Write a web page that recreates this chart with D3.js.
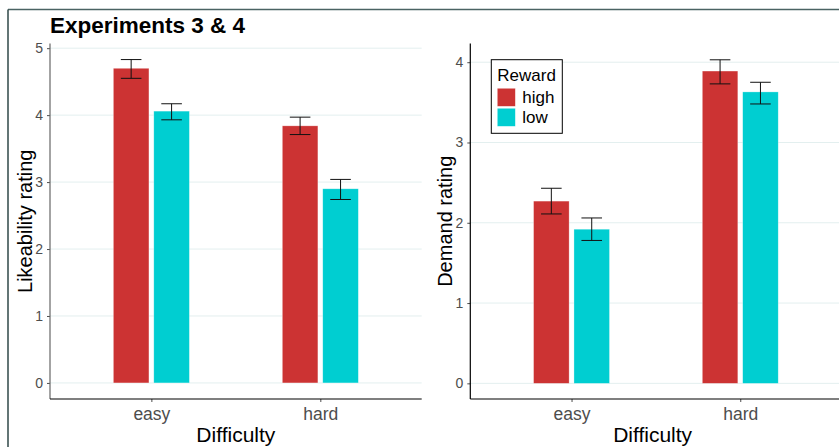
<!DOCTYPE html>
<html>
<head>
<meta charset="utf-8">
<script src="https://cdn.jsdelivr.net/npm/d3@7"></script>
<style>
  body { margin: 0; background: #fff; }
  svg { font-family: "Liberation Sans", Arial, sans-serif; display: block; }
</style>
</head>
<body>
<svg id="chart" width="839" height="447"></svg>
<script>
// data
const difficulty = ["easy", "hard"];
const reward = ["high", "low"];
const rewardColors = ["#CC3333", "#00CED1"];

// Experiment 3: likeability (mean, lower, upper) per difficulty x reward
const likeMean  = [[4.70, 4.06], [3.84, 2.90]];
const likeLower = [[4.55, 3.93], [3.71, 2.74]];
const likeUpper = [[4.83, 4.17], [3.97, 3.04]];

// Experiment 4: demand
const demandMean  = [[2.27, 1.92], [3.89, 3.63]];
const demandLower = [[2.11, 1.78], [3.73, 3.48]];
const demandUpper = [[2.43, 2.06], [4.03, 3.75]];

const likeTicks = [0, 1, 2, 3, 4, 5];
const demandTicks = [0, 1, 2, 3, 4];

const svg = d3.select("#chart");

// outer frame (top and left edges visible)
svg.append("line").attr("x1", 8).attr("x2", 839).attr("y1", 9.5).attr("y2", 9.5)
  .attr("stroke", "#4a6363").attr("stroke-width", 1.5);
svg.append("line").attr("x1", 8).attr("x2", 8).attr("y1", 9.5).attr("y2", 447)
  .attr("stroke", "#2f4747").attr("stroke-width", 1.5);

svg.append("text")
  .attr("x", 50).attr("y", 33)
  .attr("font-size", 22.5).attr("font-weight", "bold").attr("fill", "#000")
  .text("Experiments 3 & 4");

function buildRows(mean, lower, upper) {
  const rows = [];
  difficulty.forEach((d, i) => {
    reward.forEach((r, j) => {
      rows.push({ difficulty: d, reward: r, mean: mean[i][j], lo: lower[i][j], hi: upper[i][j] });
    });
  });
  return rows;
}

function drawPanel(opts) {
  const { left, right, top, bottom, yDomain, ticks, rows, yTitle, titleX, yAxisColor } = opts;

  const g = svg.append("g");

  const x = d3.scalePoint().domain(difficulty).range([left, right]).padding(0.6);
  const step = x.step();
  const inner = d3.scaleBand().domain(reward).range([-0.225 * step, 0.225 * step]).paddingInner(0.12);
  const y = d3.scaleLinear().domain(yDomain).range([bottom, top]);
  const color = d3.scaleOrdinal().domain(reward).range(rewardColors);

  // grid
  g.selectAll(".grid")
    .data(ticks)
    .join("line")
    .attr("class", "grid")
    .attr("x1", left).attr("x2", right)
    .attr("y1", (d) => y(d)).attr("y2", (d) => y(d))
    .attr("stroke", "#e3efef").attr("stroke-width", 1);

  // bars
  g.selectAll(".bar")
    .data(rows)
    .join("rect")
    .attr("class", "bar")
    .attr("x", (d) => x(d.difficulty) + inner(d.reward))
    .attr("y", (d) => y(d.mean))
    .attr("width", inner.bandwidth())
    .attr("height", (d) => y(0) - y(d.mean))
    .attr("fill", (d) => color(d.reward))
    .attr("stroke", "#ffffff").attr("stroke-opacity", 0.5).attr("stroke-width", 0.6);

  // error bars
  const capHalf = 10.3;
  const err = g.selectAll(".err").data(rows).join("g").attr("class", "err")
    .attr("stroke", "#111").attr("stroke-width", 1);
  const cx = (d) => x(d.difficulty) + inner(d.reward) + inner.bandwidth() / 2;
  err.append("line").attr("x1", cx).attr("x2", cx)
    .attr("y1", (d) => y(d.lo)).attr("y2", (d) => y(d.hi));
  err.append("line").attr("x1", (d) => cx(d) - capHalf).attr("x2", (d) => cx(d) + capHalf)
    .attr("y1", (d) => y(d.lo)).attr("y2", (d) => y(d.lo));
  err.append("line").attr("x1", (d) => cx(d) - capHalf).attr("x2", (d) => cx(d) + capHalf)
    .attr("y1", (d) => y(d.hi)).attr("y2", (d) => y(d.hi));

  // y axis
  const yAxisG = g.append("g").attr("transform", `translate(${left},0)`)
    .call(d3.axisLeft(y).tickValues(ticks).tickSize(3).tickPadding(4).tickFormat(d3.format("d")));
  yAxisG.select(".domain").remove();
  yAxisG.selectAll(".tick line").attr("stroke", "#4d4d4d");
  yAxisG.selectAll(".tick text").attr("fill", "#4d4d4d").attr("font-size", 14)
    .attr("font-family", "Liberation Sans, Arial, sans-serif");
  g.append("line").attr("x1", left).attr("x2", left).attr("y1", top).attr("y2", bottom)
    .attr("stroke", yAxisColor).attr("stroke-width", 1.2);

  // x axis
  const xAxisG = g.append("g").attr("transform", `translate(0,${bottom})`)
    .call(d3.axisBottom(x).tickSize(3).tickPadding(6));
  xAxisG.select(".domain").remove();
  xAxisG.selectAll(".tick line").attr("stroke", "#4d4d4d");
  xAxisG.selectAll(".tick text").attr("fill", "#4d4d4d").attr("font-size", 17.5)
    .attr("font-family", "Liberation Sans, Arial, sans-serif");
  g.append("line").attr("x1", left).attr("x2", right).attr("y1", bottom).attr("y2", bottom)
    .attr("stroke", "#000").attr("stroke-width", 1.2);

  // axis titles
  g.append("text")
    .attr("x", (left + Math.min(right, 839)) / 2 + (right > 839 ? -2 : 0))
    .attr("y", 442)
    .attr("text-anchor", "middle").attr("font-size", 21).attr("fill", "#000")
    .text("Difficulty");
  g.append("text")
    .attr("transform", `translate(${titleX},${(top + bottom) / 2}) rotate(-90)`)
    .attr("text-anchor", "middle").attr("font-size", 20).attr("fill", "#000")
    .text(yTitle);

  return { x, y };
}

drawPanel({
  left: 50, right: 421.7, top: 43.5, bottom: 399,
  yDomain: [-0.24, 5.07], ticks: likeTicks,
  rows: buildRows(likeMean, likeLower, likeUpper),
  yTitle: "Likeability rating", titleX: 32, yAxisColor: "#666"
});

drawPanel({
  left: 470.3, right: 841.5, top: 43.5, bottom: 399,
  yDomain: [-0.195, 4.233], ticks: demandTicks,
  rows: buildRows(demandMean, demandLower, demandUpper),
  yTitle: "Demand rating", titleX: 452, yAxisColor: "#000"
});

// legend
const legend = svg.append("g").attr("transform", "translate(491.3,59.7)");
legend.append("rect").attr("width", 71).attr("height", 73.6)
  .attr("fill", "#fff").attr("stroke", "#000").attr("stroke-width", 1);
legend.append("text").attr("x", 6).attr("y", 21).attr("font-size", 17).attr("fill", "#000").text("Reward");
const items = legend.selectAll(".legend-item").data(reward).join("g")
  .attr("class", "legend-item")
  .attr("transform", (d, i) => `translate(6,${28.6 + i * 20})`);
items.append("rect").attr("width", 18).attr("height", 18)
  .attr("fill", (d, i) => rewardColors[i])
  .attr("stroke", "#fff").attr("stroke-opacity", 0.5).attr("stroke-width", 0.6);
items.append("text").attr("x", 25).attr("y", 15).attr("font-size", 17).attr("fill", "#000")
  .text((d) => d);
</script>
</body>
</html>
